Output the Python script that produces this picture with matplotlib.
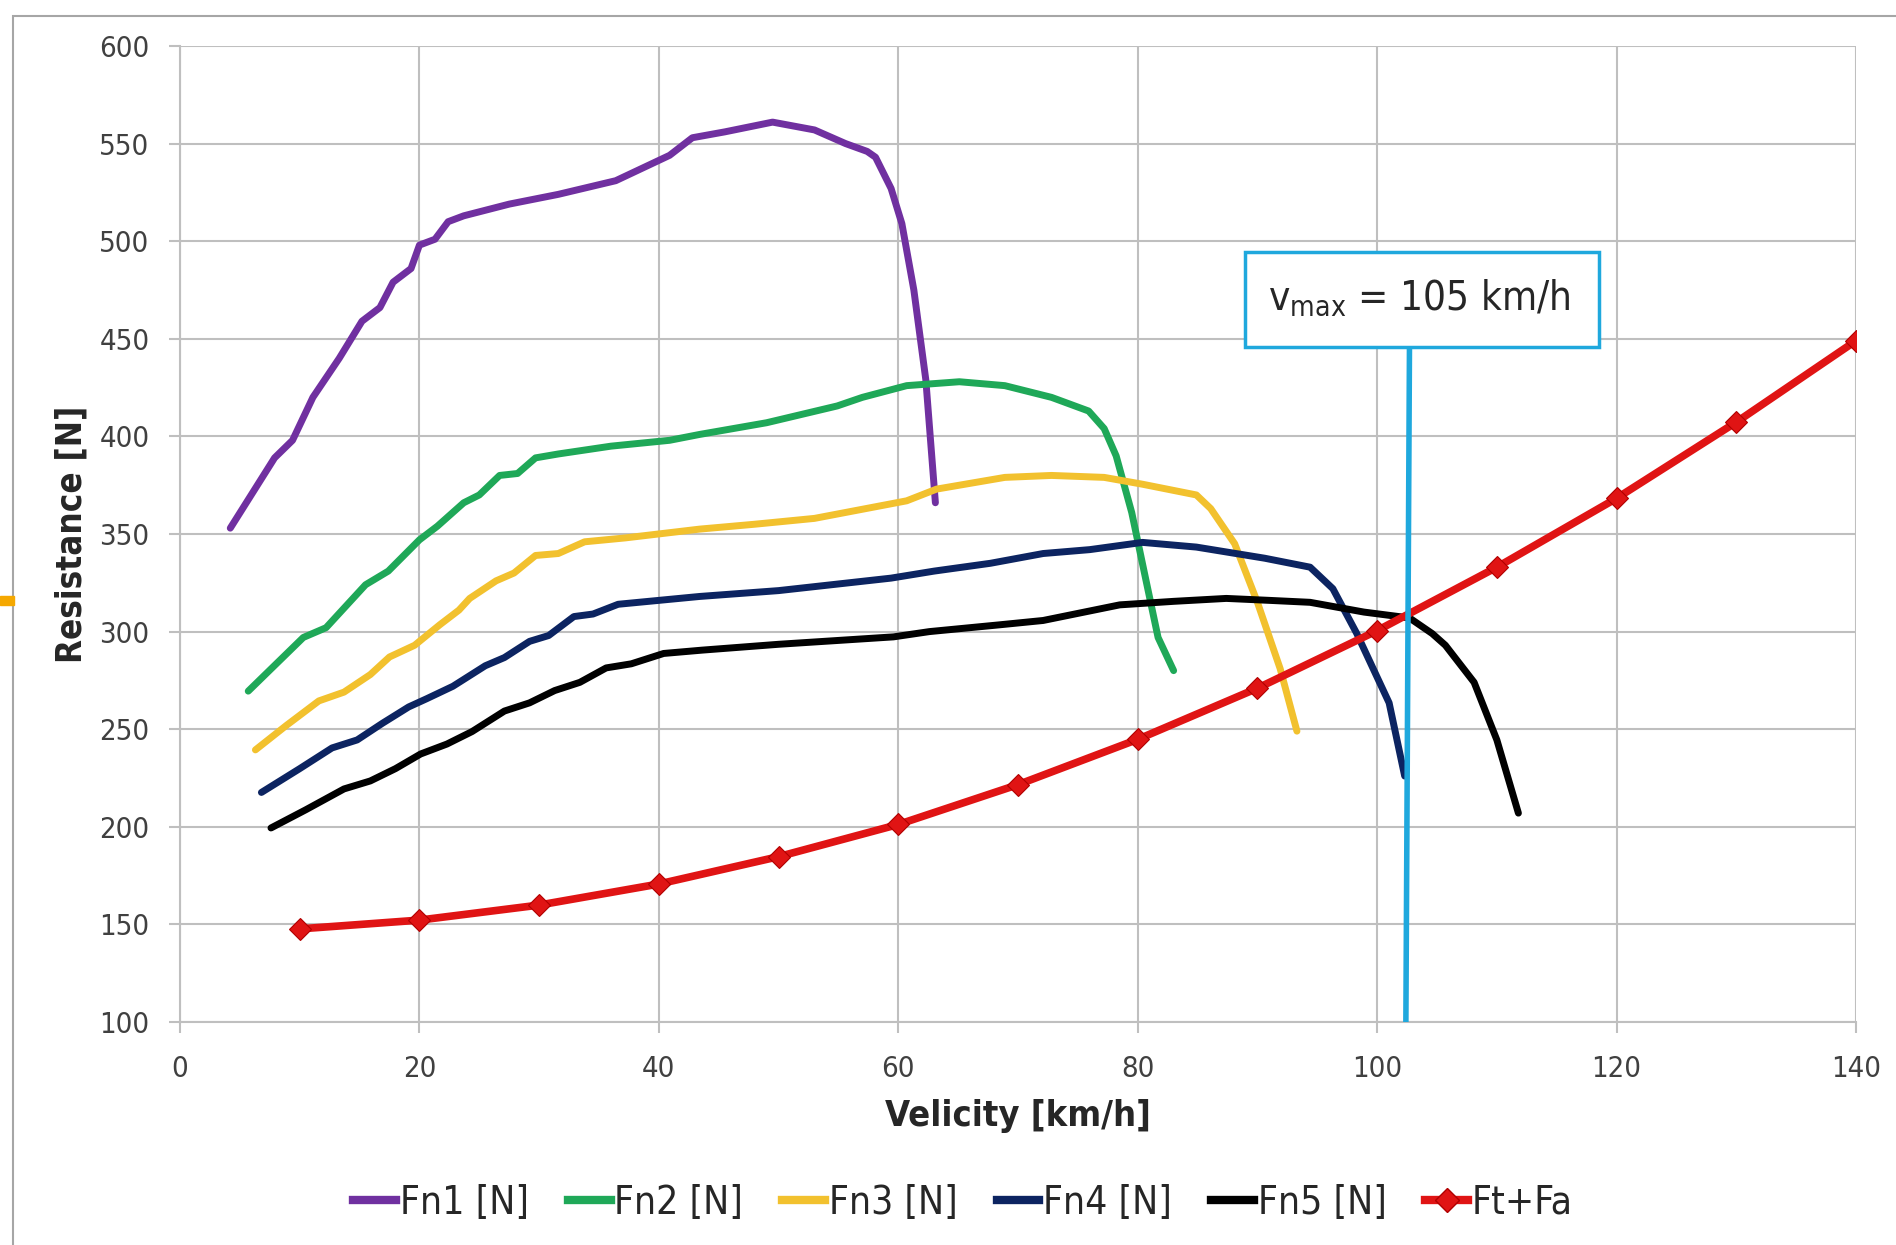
import matplotlib
matplotlib.use("Agg")

import matplotlib.pyplot as plt
from matplotlib.lines import Line2D
from matplotlib.patches import Rectangle

plt.rcParams["font.family"] = ["DejaVu Sans"]
plt.rcParams["font.stretch"] = "condensed"

# Fn1 .. Fn5 (engine force in each gear) and road resistance Ft+Fa
v1 = [4.2, 7.9, 9.4, 11.1, 13.3, 15.2, 16.7, 17.8, 19.3, 20.0, 21.3, 22.4, 23.7, 27.5,
      31.6, 36.4, 40.9, 42.8, 45.5, 49.5, 53.0, 55.6, 57.4, 58.1, 59.4, 60.3, 61.3, 62.3, 63.1]
F1 = [353, 389, 398, 420, 440, 459, 466, 479, 486, 498, 501, 510, 513, 519,
      524, 531, 544, 553, 556, 561, 557, 550, 546, 543, 527, 509, 475, 429, 366]

v2 = [5.7, 10.3, 12.2, 15.5, 17.4, 20.0, 21.5, 23.7, 25.0, 26.7, 28.2, 29.7, 31.6, 36.0,
      40.9, 43.4, 49.0, 54.9, 57.0, 60.7, 65.1, 68.9, 72.8, 75.9, 77.2, 78.2, 79.5, 80.7,
      81.7, 83.0]
F2 = [269.5, 297, 302, 324, 331, 347, 354, 366, 370, 380, 381, 389, 391, 395,
      398, 401, 407, 415.6, 420, 426, 428, 426, 420, 413, 404, 390, 361, 326,
      297, 280]

v3 = [6.3, 8.9, 11.6, 13.7, 15.9, 17.5, 19.6, 21.7, 23.3, 24.2, 26.4, 27.9, 29.7, 31.6,
      33.8, 37.2, 43.4, 48.0, 53.0, 60.7, 63.2, 68.9, 72.8, 77.2, 80.4, 84.9, 86.1, 88.1,
      90.0, 91.9, 93.3]
F3 = [239.4, 252, 264.5, 269, 278, 287, 293, 303.5, 311, 317, 326, 330, 339, 340,
      346, 348, 352.5, 355, 358, 367, 373, 379, 380, 379, 375.5, 370, 363, 345,
      315, 281, 249]

v4 = [6.8, 10.0, 12.7, 14.8, 16.9, 19.1, 20.6, 22.8, 25.5, 27.1, 29.2, 30.8, 32.9, 34.5,
      36.6, 40.0, 43.4, 50.0, 59.4, 63.0, 67.7, 72.1, 76.0, 80.4, 84.9, 90.6, 94.4, 96.3,
      98.3, 100.2, 101.0, 102.3]
F4 = [217.6, 229.8, 240.4, 244.5, 253, 261.4, 265.6, 272, 282.5, 286.7, 295, 298, 307.7, 309,
      314, 316, 318, 321, 327.4, 331, 335, 340, 342, 345.7, 343.3, 337.6, 333, 322,
      299, 274, 263.5, 226]

v5 = [7.6, 10.5, 13.7, 15.9, 18.0, 20.1, 22.3, 24.4, 27.1, 29.2, 31.3, 33.4, 35.6, 37.7,
      40.4, 43.6, 50.0, 59.6, 62.6, 68.5, 72.1, 78.5, 83.0, 87.4, 91.0, 94.4, 98.9, 102.7,
      104.6, 105.7, 108.1, 110.0, 111.8]
F5 = [199.4, 208.7, 219.4, 223.5, 229.8, 237.3, 242.4, 248.8, 259.3, 263.5, 269.8, 274, 281.4, 283.5,
      288.8, 290.5, 293.5, 297.3, 300, 303.5, 305.7, 313.7, 315.5, 317, 316, 315, 310, 307,
      299, 293, 274, 244.5, 207]

v_res = [10, 20, 30, 40, 50, 60, 70, 80, 90, 100, 110, 120, 130, 140]
F_res = [147.7, 152.2, 159.9, 170.7, 184.7, 201.2, 221.6, 244.8, 271.0, 300.5,
         333.0, 368.3, 407.3, 449.0]

v_max_line = [102.7, 102.4]
F_max_line = [445.7, 100]

labels = ["Fn1 [N]", "Fn2 [N]", "Fn3 [N]", "Fn4 [N]", "Fn5 [N]", "Ft+Fa"]
colors = ["#7030a0", "#1fa858", "#f2c12e", "#0c2461", "#000000", "#e01414"]
CYAN = "#1fa8dd"
GRID = "#bfbfbf"
TXT = "#404040"

fig = plt.figure(figsize=(18.96, 12.45), dpi=100)
ax = fig.add_axes([180 / 1896, 1 - 1022 / 1245, 1676 / 1896, 976 / 1245])

# outer chart-area border and the small orange mark on the left edge
fig.patches.append(Rectangle((13 / 1896, -0.05), 1.1, 1 - 16 / 1245 + 0.05,
                             transform=fig.transFigure, fill=False,
                             edgecolor="#a6a6a6", lw=1.5, zorder=0))
fig.patches.append(Rectangle((0, 1 - 605 / 1245), 14 / 1896, 9 / 1245,
                             transform=fig.transFigure, color="#f5a800", zorder=1))

series = [(v1, F1), (v2, F2), (v3, F3), (v4, F4), (v5, F5)]
for (vx, fy), c in zip(series, colors[:5]):
    ax.plot(vx, fy, color=c, lw=5, solid_capstyle="round", solid_joinstyle="round", zorder=3)

ax.plot(v_res, F_res, color=colors[5], lw=5.5, marker="D", markersize=11,
        markerfacecolor=colors[5], markeredgecolor="#b00000", markeredgewidth=0.8,
        solid_joinstyle="round", zorder=4)

ax.plot(v_max_line, F_max_line, color=CYAN, lw=4, zorder=5)
ax.add_patch(Rectangle((89, 445.7), 29.5, 48.7, facecolor="white", edgecolor=CYAN,
                       lw=2.5, zorder=6))
ax.text(103.5, 471, r"$\mathregular{v_{max}}$ = 105 km/h", ha="center", va="center",
        fontsize=29, color="#262626", zorder=7)

ax.set_xlim(0, 140)
ax.set_ylim(100, 600)
ax.set_xticks(range(0, 141, 20))
ax.set_yticks(range(100, 601, 50))
ax.grid(True, color=GRID, lw=1.5, zorder=0)
ax.set_axisbelow(True)
for side in ("top", "right"):
    ax.spines[side].set_visible(False)
for side in ("left", "bottom"):
    ax.spines[side].set_color(GRID)
    ax.spines[side].set_linewidth(1.5)
ax.tick_params(axis="both", length=8, width=1.5, color=GRID, labelsize=21, labelcolor=TXT)
ax.tick_params(axis="y", pad=14)
ax.tick_params(axis="x", pad=16)

ax.set_xlabel("Velicity [km/h]", fontsize=26, fontweight="bold", color="#262626", labelpad=11)
ax.set_ylabel("Resistance [N]", fontsize=25, fontweight="bold", color="#262626", labelpad=8)

handles = [Line2D([], [], color=c, lw=6) for c in colors[:5]]
handles.append(Line2D([], [], color=colors[5], lw=6, marker="D", markersize=12,
                      markerfacecolor=colors[5], markeredgecolor="#b00000"))
fig.legend(handles, labels, loc="center", bbox_to_anchor=(0.508, 1 - 1203 / 1245),
           ncol=6, frameon=False, fontsize=28, handlelength=1.1, handletextpad=0.1,
           columnspacing=1.0, labelcolor="#262626")

fig.savefig("out.png", dpi=100)
